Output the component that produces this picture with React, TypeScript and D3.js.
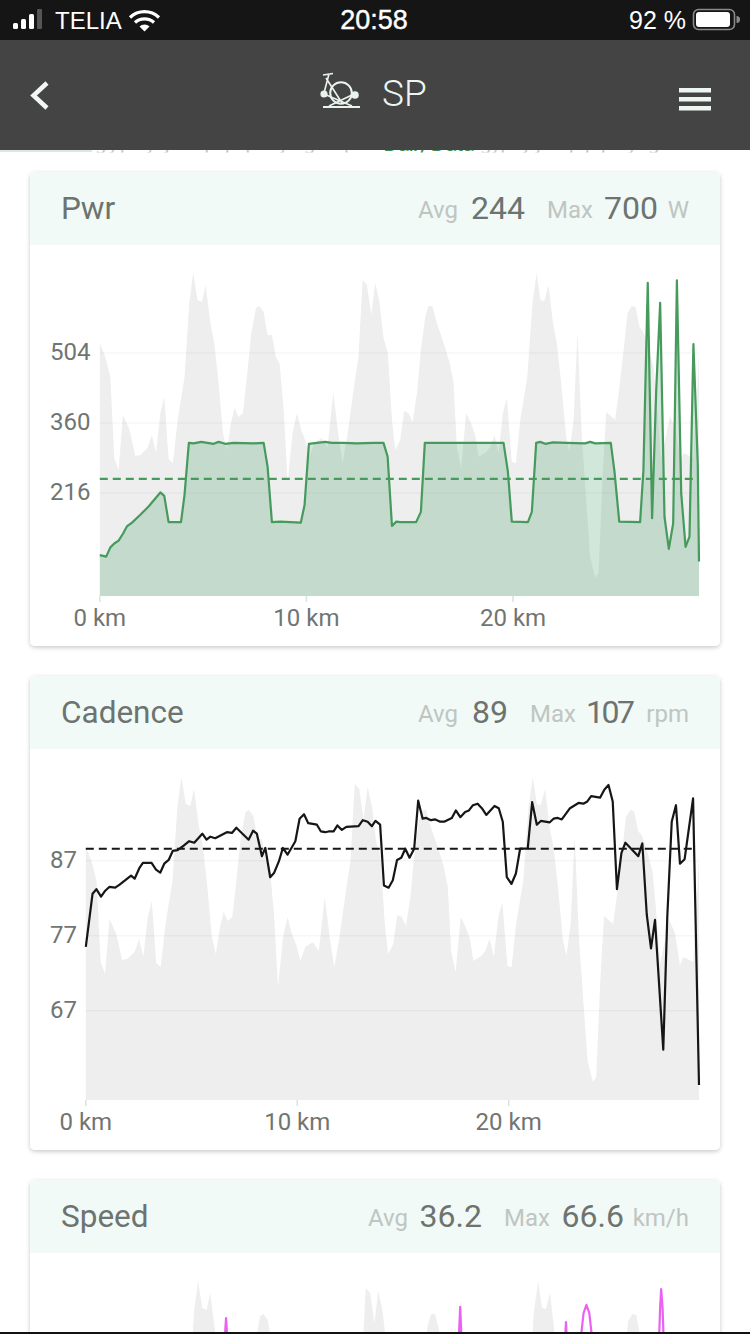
import React from "react";
import * as d3 from "d3";

const elevKm = [0,.27,.51,.7,.91,1.12,1.44,1.72,1.96,2.31,2.52,2.72,2.93,3.12,3.33,3.54,3.77,4.1,4.33,4.52,4.73,4.94,5.12,5.35,5.54,5.75,5.96,6.15,6.35,6.52,6.72,6.93,7.12,7.33,7.56,7.72,7.93,8.12,8.33,8.52,8.7,8.9,9.09,9.33,9.54,9.75,9.94,10.15,10.38,10.73,11.02,11.3,11.56,11.75,12,12.28,12.52,12.72,12.93,13.14,13.33,13.54,13.73,13.94,14.14,14.3,14.54,14.73,14.94,15.14,15.35,15.54,15.75,15.91,16.1,16.31,16.51,16.72,16.93,17.12,17.28,17.49,17.73,17.96,18.17,18.33,18.7,18.89,19.1,19.3,19.51,19.7,19.94,20.14,20.35,20.69,20.94,21.14,21.33,21.52,21.72,21.93,22.12,22.33,22.56,22.73,22.93,23.12,23.33,23.54,23.73,23.98,24.14,24.33,24.51,24.78,24.94,25.15,25.35,25.54,25.75,25.93,26.12,26.31,26.56,26.8,26.95,27.16,27.6,27.86,28.1,28.26,28.73,29];
const elevation = [253,239,219,138,126,181,166,140,141,148,161,143,183,199,137,133,176,219,293,323,296,294,311,273,253,213,163,146,173,188,179,183,219,263,288,290,284,261,261,239,233,186,113,163,183,166,156,139,153,158,149,203,159,133,163,206,239,316,311,281,313,293,258,243,176,146,156,185,183,174,203,246,279,290,290,273,261,248,233,213,149,128,183,173,161,139,144,149,161,143,183,198,134,133,176,219,293,323,296,295,311,273,253,213,161,144,176,264,159,96,39,18,23,119,184,179,176,209,246,283,290,289,269,264,248,229,195,137,180,167,135,143,138,243];

const powerKm = [0,.31,.51,.7,.91,1.12,1.31,1.56,1.96,2.36,2.93,3.12,3.33,3.93,4.1,4.31,4.54,4.91,5.51,5.75,6.07,6.48,7.44,7.93,8.12,8.33,8.73,9.22,9.73,9.91,10.12,10.5,10.91,11.23,11.8,12.44,13.25,13.73,13.93,14.14,14.35,14.54,15.31,15.54,15.73,16.48,18.01,19.54,19.75,19.94,20.72,20.91,21.12,21.31,21.56,21.93,22.6,23.49,23.73,23.98,24.73,24.91,25.14,26.15,26.31,26.52,26.73,26.93,27.12,27.33,27.54,27.75,27.93,28.14,28.35,28.54,28.73,28.94,29];
const power = [88,85,104,112,118,132,147,155,171,188,217,210,156,156,212,319,318,321,317,321,317,319,318,319,270,156,157,156,155,191,317,319,321,319,319,318,319,319,291,148,157,156,156,177,319,319,319,319,260,157,156,177,319,321,317,320,319,318,321,318,319,260,157,156,263,648,164,428,607,167,101,153,653,215,105,126,522,277,75];

const cadenceKm = [0,.32,.5,.72,.92,1.11,1.39,1.6,1.87,2.14,2.31,2.53,2.7,3.11,3.32,3.52,3.71,3.92,4.11,4.34,4.63,4.89,5.13,5.51,5.71,5.89,6.12,6.67,6.91,7.12,7.7,7.91,8.09,8.33,8.49,8.72,8.91,9.13,9.32,9.54,9.91,10.11,10.32,10.52,10.93,11.12,11.32,11.48,11.72,11.9,12.11,12.32,12.9,13.1,13.33,13.53,13.7,13.92,14.1,14.32,14.52,14.72,14.92,15.11,15.31,15.53,15.72,15.93,16.1,16.32,16.53,16.76,16.95,17.31,17.5,17.71,17.94,18.12,18.31,18.53,18.73,18.94,19.33,19.53,19.72,19.91,20.13,20.34,20.54,20.9,21.11,21.33,21.52,21.93,22.12,22.32,22.51,22.9,23.3,23.53,23.72,23.9,24.32,24.53,24.72,24.92,25.12,25.33,25.52,26.13,26.32,26.53,26.73,26.92,27.31,27.5,27.71,27.91,28.1,28.32,28.72,29];
const cadence = [75.5,82.6,83.2,82.2,83,83.5,83.4,83.8,84.4,85,84.6,86,86.7,86.7,85.8,85.4,86.6,87.1,88.3,88.4,89,89.6,89.4,90.6,89.8,90.2,90,90.8,90.7,91.4,89.8,91,90.6,87.6,88.7,84.8,85.4,86.9,88.7,87.8,89.6,92.6,93.2,92,91.8,90.9,90.8,90.9,90.9,91.7,91.1,91.5,91.6,92.4,92.2,91.6,92.3,91.8,83.7,83.4,84.4,87.1,87.4,88.6,87.4,88.6,95,92.6,92.7,92.4,92.5,92.2,92.2,92.7,93.7,92.8,93.5,93.7,94.4,94.6,94,93.1,94.3,94,92.2,84.8,83.9,85.3,88.6,88.6,94.8,91.8,92.3,92.1,92.6,92.7,92.5,94,94.7,94.6,94.9,95.6,95.4,96.5,97.1,94.9,83.2,88,89.4,87.6,89.3,79.8,75.3,79.1,61.8,79.5,92.2,94.4,86.6,87.2,95.3,57.1];

const speedKm = [0,5.6,5.78,5.89,6.0,6.2,17,17.2,17.33,17.46,17.7,22.2,22.38,22.5,22.62,22.9,22.95,23.25,23.36,23.5,23.64,23.75,23.95,26.8,27.0,27.1,27.15,27.22,27.32,29];
const speed = [36,38,49,56,49,36,38,46,58.2,46,36,36,46,55.2,46,36,36,53,57,58.6,57,53,36,36,46,58,61.7,58,46,30];

const powerTicks = [216, 360, 504];
const cadenceTicks = [67, 77, 87];
const kmTicks = [0, 10, 20];
const powerAvg = 245;
const cadenceAvg = 88.6;

const font = "Roboto, sans-serif";
const statusFont = "'Liberation Sans', Arial, sans-serif";
const titleC = "#6d7370";
const dimC = "#c0c5c2";
const axisC = "#6f7573";

type Pt = [number, number];
const zip = (a: number[], b: number[]): Pt[] => a.map((k, i) => [k, b[i]]);

function Card({ top, height, title, avg, max, unit, avgX, maxX, avgValX, maxValX, unitX, maxW }: any) {
  return (
    <g>
      <rect x={30} y={top} width={690} height={height} rx={5} fill="#fff" filter="url(#sh)" />
      <path d={`M30 ${top + 73}V${top + 5}a5 5 0 0 1 5-5H715a5 5 0 0 1 5 5V${top + 73}Z`} fill="#f1faf6" />
      <text x={61} y={top + 47} fontSize={31.5} fill={titleC} fontFamily={font}>{title}</text>
      <text x={avgX} y={top + 46} fontSize={24} fill={dimC} fontFamily={font} textAnchor="end">Avg</text>
      <text x={avgValX} y={top + 47} fontSize={32} fill={titleC} fontFamily={font} textAnchor="end">{avg}</text>
      <text x={maxX} y={top + 46} fontSize={24} fill={dimC} fontFamily={font} textAnchor="end">Max</text>
      <text x={maxValX} y={top + 47} fontSize={32} fill={titleC} fontFamily={font} textAnchor="end" textLength={maxW} lengthAdjust="spacing">{max}</text>
      <text x={unitX} y={top + 46} fontSize={24} fill={dimC} fontFamily={font} textAnchor="end">{unit}</text>
    </g>
  );
}

function Chart({ x, yLine, yTop, baseline, ticks, data, lineColor, fill, avg, avgColor, gridRight, labelBottom, dashEnd }: any) {
  const elevY = d3.scaleLinear().domain([0, 323]).range([baseline, yTop]);
  const elevArea = d3.area<Pt>().x((d) => x(d[0])).y0(baseline).y1((d) => elevY(d[1]));
  const line = d3.line<Pt>().x((d) => x(d[0])).y((d) => yLine(d[1]));
  const fillArea = d3.area<Pt>().x((d) => x(d[0])).y0(baseline).y1((d) => yLine(d[1]));
  return (
    <g>
      <path d={elevArea(zip(elevKm, elevation)) || ""} fill="#eeeeee" />
      {(ticks || []).map((t: number) => (
        <g key={t}>
          <line x1={x(0)} x2={gridRight} y1={yLine(t)} y2={yLine(t)} stroke="#000" strokeOpacity={0.035} strokeWidth={1.5} />
          <text x={50} y={yLine(t) + 7.5} fontSize={24} fill={axisC} fontFamily={font}>{t}</text>
        </g>
      ))}
      {fill && <path d={fillArea(data) || ""} fill={fill} fillOpacity={0.25} />}
      {avg != null && (
        <line x1={x(0)} x2={dashEnd} y1={yLine(avg)} y2={yLine(avg)} stroke={avgColor} strokeWidth={2.1} strokeDasharray="8 5" />
      )}
      <path d={line(data) || ""} fill="none" stroke={lineColor} strokeWidth={2.2} strokeLinejoin="round" />
      {kmTicks.map((k) => (
        <g key={k}>
          <line x1={x(k)} x2={x(k)} y1={baseline} y2={baseline + 6} stroke="#d5e5df" strokeWidth={1.5} />
          {labelBottom && (
            <text x={x(k)} y={labelBottom} fontSize={24} fill={axisC} fontFamily={font} textAnchor="middle">{k} km</text>
          )}
        </g>
      ))}
    </g>
  );
}

export default function App() {
  const xPower = d3.scaleLinear().domain([0, 29]).range([99.8, 699]);
  const yPower = d3.scaleLinear().domain([4, 504]).range([596, 352.9]);
  const xCad = d3.scaleLinear().domain([0, 29]).range([85.8, 699]);
  const yCad = d3.scaleLinear().domain([87, 67]).range([860.7, 1010.7]);
  const xSpeed = d3.scaleLinear().domain([0, 29]).range([105.5, 699]);
  const ySpeed = d3.scaleLinear().domain([0, 66.6]).range([1604, 1264]);

  return (
    <svg width={750} height={1334} viewBox="0 0 750 1334" style={{ position: "absolute", left: 0, top: 0, background: "#fff" }}>
      <defs>
        <filter id="sh" x="-5%" y="-5%" width="110%" height="110%">
          <feDropShadow dx={0} dy={1.5} stdDeviation={2.2} floodColor="#000" floodOpacity={0.22} />
        </filter>
        <clipPath id="sliver"><rect x={0} y={150} width={750} height={2.5} /></clipPath>
      </defs>
      <rect width={750} height={1334} fill="#fff" />

      <g clipPath="url(#sliver)" fontFamily={font}>
        <rect x={0} y={150} width={92} height={2} fill="#dbe9e2" />
        <text x={95} y={150} fontSize={20} fill="#c4c7c5" textLength={280}>gypsy jump pipe yoga qua</text>
        <text x={383} y={151} fontSize={24} fill="#3d8f58" textLength={92}>Daily Data</text>
        <text x={480} y={150} fontSize={20} fill="#c4c7c5" textLength={190}>gypsy jump pipe yoga</text>
      </g>

      <Card top={172} height={474} title="Pwr" avg="244" max="700" unit="W"
        avgX={458} avgValX={525} maxX={593} maxValX={658} unitX={689} />
      <Chart x={xPower} yLine={yPower} yTop={273} baseline={596} ticks={powerTicks.slice()} data={zip(powerKm, power)}
        lineColor="#459a5c" fill="#46a06a" avg={powerAvg} avgColor="#459a5c" gridRight={699} labelBottom={626} dashEnd={696} />

      <Card top={676} height={474} title="Cadence" avg="89" max="107" unit="rpm"
        avgX={458} avgValX={508} maxX={576} maxValX={635} unitX={689} maxW={49} />
      <Chart x={xCad} yLine={yCad} yTop={777} baseline={1100} ticks={cadenceTicks.slice()} data={zip(cadenceKm, cadence)}
        lineColor="#161616" avg={cadenceAvg} avgColor="#161616" gridRight={699} labelBottom={1130} dashEnd={695} />

      <Card top={1180} height={474} title="Speed" avg="36.2" max="66.6" unit="km/h"
        avgX={408} avgValX={482} maxX={550} maxValX={624} unitX={689} />
      <Chart x={xSpeed} yLine={ySpeed} yTop={1281} baseline={1604} ticks={[]} data={zip(speedKm, speed)}
        lineColor="#ea62f2" gridRight={699} />

      <rect x={0} y={1332} width={750} height={2} fill="#111" />

      {/* status bar */}
      <rect x={0} y={0} width={750} height={40} fill="#151515" />
      <rect x={0} y={40} width={750} height={110} fill="#444444" />
      <g fill="#fff">
        <rect x={13} y={23} width={5} height={6} rx={1.5} />
        <rect x={21} y={19} width={5} height={10} rx={1.5} />
        <rect x={29} y={14} width={5} height={15} rx={1.5} />
        <rect x={37} y={9} width={5} height={20} rx={1} fill="#555" />
      </g>
      <text x={55} y={29} fontSize={24} fill="#fff" fontFamily={statusFont}>TELIA</text>
      <g fill="none" stroke="#fff" strokeWidth={3.2}>
        <path d="M130 17.5a21 21 0 0 1 29 0" />
        <path d="M135 22.5a14 14 0 0 1 19 0" />
      </g>
      <path d="M139.5 26.5a7 7 0 0 1 10 0L144.5 31.5Z" fill="#fff" />
      <text x={374} y={29} fontSize={27} fill="#fff" stroke="#fff" strokeWidth={0.4} fontFamily={statusFont} textAnchor="middle">20:58</text>
      <text x={686} y={29} fontSize={25} fill="#fff" fontFamily={statusFont} textAnchor="end">92 %</text>
      <rect x={693.5} y={9.5} width={41} height={20} rx={5} fill="none" stroke="#8a8a8a" strokeWidth={1.6} />
      <rect x={696} y={12} width={34} height={15} rx={3} fill="#fff" />
      <path d="M736.5 16v7a3.5 3.5 0 0 0 0-7Z" fill="#8a8a8a" />

      {/* nav bar */}
      <path d="M47 83L33.5 95.5L47 108" fill="none" stroke="#f2f7f4" strokeWidth={4.5} />
      <g stroke="#eaf3ee" fill="none" strokeWidth={1.6}>
        <circle cx={341} cy={93} r={10.8} strokeWidth={2} />
        <path d="M323 107H360" strokeWidth={2} />
        <path d="M323 75L333 73.5M329 74L324 93M326 78L342 103M329 106L354 94M352 106L324 94" />
        <circle cx={324} cy={94} r={2.8} fill="#eaf3ee" />
        <circle cx={355} cy={95} r={3} fill="#eaf3ee" />
      </g>
      <text x={382} y={106} fontSize={37} fontWeight={300} fill="#eef5f1" fontFamily={font}>SP</text>
      <g fill="#eef6f1">
        <rect x={679} y={88} width={32} height={4.5} />
        <rect x={679} y={97} width={32} height={4.5} />
        <rect x={679} y={106} width={32} height={4.5} />
      </g>
    </svg>
  );
}
